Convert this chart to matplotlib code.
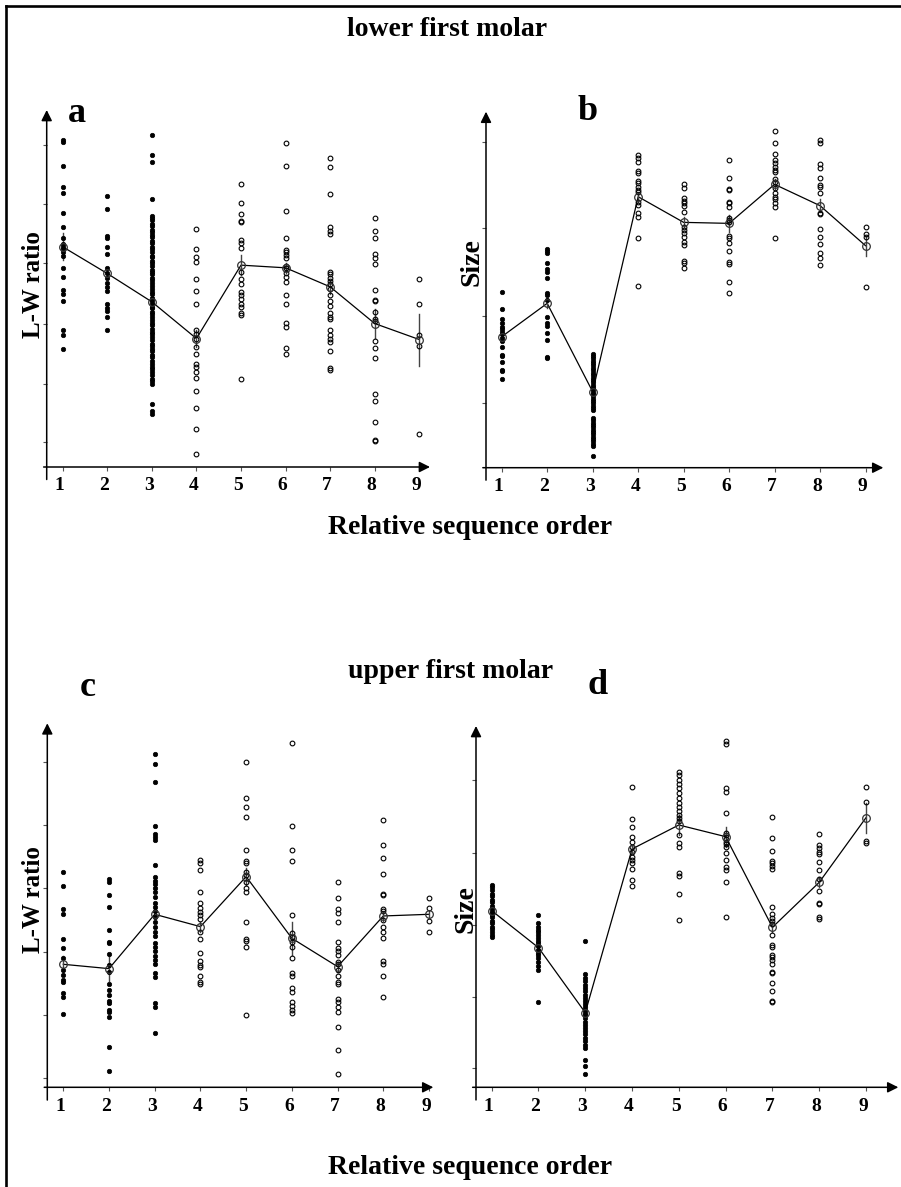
import matplotlib
matplotlib.use("Agg")
import matplotlib.pyplot as plt
from matplotlib.lines import Line2D
from matplotlib.transforms import ScaledTranslation

plt.rcParams.update({"font.family": "Liberation Serif", "font.weight": "bold"})

W, H = 901, 1187
categories = [1, 2, 3, 4, 5, 6, 7, 8, 9]
filled = [True, True, True, False, False, False, False, False, False]

# ---- a: lower first molar, L-W ratio ----
a_points = [
    [98.0, 97.3, 90.3, 84.0, 82.0, 76.2, 71.8, 68.5, 66.8, 66.0, 65.2, 64.3, 63.3, 59.7, 56.8, 53.0, 52.0, 49.7, 41.0, 39.5, 35.5],
    [81.2, 77.2, 69.2, 68.5, 66.0, 63.7, 59.7, 58.0, 56.5, 55.0, 54.0, 52.7, 49.0, 47.8, 46.7, 45.0, 41.0],
    [99.5, 93.5, 91.5, 80.2, 75.2, 74.6, 73.9, 72.8, 72.2, 71.1, 70.5, 69.4, 68.9, 67.6, 67.1, 66.0, 65.2, 64.5,
     63.3, 62.9, 61.7, 61.0, 60.2, 59.1, 58.4, 57.8, 56.6, 56.0, 55.1, 54.3, 53.5, 52.4, 51.9, 50.8, 50.0, 49.3,
     48.1, 47.6, 46.5, 45.8, 44.9, 44.0, 43.2, 42.5, 41.4, 40.6, 39.8, 38.9, 38.1, 37.0, 36.4, 35.3, 34.7, 33.6,
     32.9, 31.8, 31.0, 30.1, 29.3, 28.4, 27.6, 26.5, 25.9, 25.0, 19.0, 16.8, 16.0],
    [71.2, 65.3, 63.0, 61.3, 56.2, 52.8, 49.0, 41.0, 40.0, 38.5, 36.0, 33.8, 31.0, 30.0, 28.5, 26.8, 22.8, 17.8, 11.5, 3.8],
    [84.7, 79.0, 75.8, 73.8, 73.3, 68.0, 67.0, 65.5, 58.5, 56.2, 54.8, 52.5, 51.5, 50.5, 49.0, 48.0, 46.2, 45.7, 26.5],
    [97.2, 90.2, 76.8, 68.5, 65.0, 64.3, 63.5, 62.5, 60.2, 59.5, 58.2, 57.0, 55.5, 51.5, 48.8, 43.3, 42.0, 35.7, 34.0],
    [92.5, 89.8, 81.7, 72.0, 70.7, 69.8, 58.5, 57.7, 56.7, 55.7, 54.7, 53.5, 51.5, 49.8, 48.3, 46.2, 45.0, 44.4,
     41.2, 39.5, 38.5, 37.5, 34.7, 29.7, 29.0],
    [74.5, 70.7, 68.7, 63.7, 62.7, 60.7, 53.2, 50.0, 49.7, 46.5, 44.5, 43.7, 37.8, 35.8, 32.8, 22.0, 19.8, 13.5, 8.0, 7.7],
    [56.2, 49.0, 39.7, 36.2, 9.8],
]
a_means = [66.0, 58.0, 49.5, 38.5, 60.5, 59.7, 54.0, 43.0, 38.2]
a_err = [4.0, 1.5, 1.0, 2.5, 3.0, 1.5, 2.0, 4.3, 7.8]

# ---- b: lower first molar, size ----
b_points = [
    [52.6, 47.6, 44.5, 43.3, 42.3, 41.5, 40.8, 40.0, 38.8, 38.1, 36.3, 33.8, 33.6, 31.8, 29.3, 29.0, 26.5],
    [65.6, 65.0, 64.3, 61.3, 59.6, 58.8, 56.8, 52.3, 51.8, 50.3, 45.3, 43.3, 42.5, 40.5, 38.3, 33.3, 32.8],
    [34.1, 33.4, 32.8, 32.0, 31.3, 30.7, 29.9, 29.2, 28.5, 27.8, 27.0, 26.4, 25.7, 24.9, 24.2, 23.6, 22.8, 22.1,
     21.4, 20.7, 19.9, 19.3, 18.6, 17.8, 17.2, 14.8, 14.2, 13.5, 12.9, 12.1, 11.4, 10.8, 10.0, 9.3, 8.6, 7.9,
     7.1, 6.4, 3.5],
    [93.8, 92.8, 91.8, 89.0, 88.3, 86.0, 85.3, 84.3, 83.3, 82.8, 79.8, 78.8, 76.3, 75.3, 68.8, 54.5],
    [85.1, 83.8, 80.8, 80.0, 79.3, 78.6, 76.8, 72.3, 71.3, 70.3, 69.3, 67.8, 66.8, 62.1, 61.5, 59.8],
    [92.3, 86.8, 83.6, 83.3, 79.6, 79.3, 78.1, 74.8, 74.3, 73.8, 69.5, 68.8, 67.3, 65.0, 61.8, 61.1, 55.8, 52.5],
    [101.0, 97.3, 94.0, 92.3, 91.5, 90.3, 89.3, 88.8, 86.5, 85.8, 83.8, 82.3, 81.3, 80.5, 79.3, 78.1, 68.8],
    [98.3, 97.3, 91.0, 89.8, 86.8, 84.8, 84.1, 82.3, 76.3, 76.1, 71.5, 69.3, 67.1, 64.5, 62.8, 60.8],
    [72.3, 70.0, 69.3, 54.1],
]
b_means = [39.3, 49.3, 22.8, 81.3, 73.6, 73.3, 85.0, 78.6, 66.6]
b_err = [1.0, 1.5, 1.0, 1.5, 1.5, 2.5, 1.5, 2.0, 3.0]

# ---- c: upper first molar, L-W ratio ----
c_points = [
    [64.5, 60.4, 53.4, 51.9, 44.5, 41.7, 38.7, 35.2, 33.7, 32.2, 31.7, 28.2, 27.2, 21.9],
    [62.5, 61.7, 57.7, 54.0, 47.2, 43.5, 43.2, 39.9, 36.7, 34.7, 30.9, 29.2, 27.7, 26.0, 25.4, 23.2, 22.7, 21.0, 12.2, 5.0],
    [99.9, 97.0, 91.6, 78.4, 76.0, 75.2, 74.2, 66.7, 63.0, 62.0, 61.0, 59.7, 58.7, 57.2, 55.4, 54.2, 52.9, 51.0,
     49.7, 48.2, 46.7, 45.4, 43.2, 42.2, 41.0, 39.4, 38.2, 36.9, 34.4, 33.2, 25.2, 24.0, 16.2],
    [68.2, 67.4, 65.2, 58.5, 55.4, 53.9, 52.7, 51.7, 50.4, 46.7, 44.5, 40.4, 38.0, 36.7, 36.0, 33.5, 31.7, 31.0],
    [97.6, 86.9, 84.2, 81.2, 71.2, 67.9, 67.2, 64.7, 63.7, 61.7, 59.7, 58.5, 49.5, 44.4, 44.0, 42.0, 21.7],
    [103.4, 78.4, 71.2, 67.9, 51.7, 46.2, 45.0, 43.7, 42.2, 38.9, 34.4, 33.5, 29.7, 28.7, 25.7, 24.4, 23.2, 22.2],
    [61.7, 56.9, 53.4, 52.2, 49.7, 43.7, 41.9, 41.0, 39.7, 37.7, 37.0, 35.2, 33.4, 31.7, 31.0, 26.5, 25.5, 24.2,
     22.5, 18.0, 11.2, 3.9],
    [80.1, 72.7, 68.9, 64.1, 57.9, 57.7, 53.4, 52.9, 50.2, 48.2, 46.5, 44.7, 37.9, 37.0, 33.4, 27.2],
    [56.9, 53.7, 49.9, 46.7],
]
c_means = [36.9, 35.6, 51.9, 48.2, 63.2, 44.7, 36.2, 51.4, 51.9]
c_err = [2.5, 3.8, 1.0, 1.5, 2.5, 5.0, 1.5, 1.5, 1.0]

# ---- d: upper first molar, size ----
d_points = [
    [60.7, 60.1, 59.3, 58.0, 57.4, 56.1, 55.6, 54.3, 53.8, 53.0, 52.4, 51.6, 51.1, 50.0, 49.4, 48.1, 47.5, 46.6, 45.6, 45.0],
    [51.7, 49.2, 48.2, 47.2, 46.5, 45.7, 44.7, 43.9, 43.2, 42.5, 41.2, 40.4, 39.7, 38.7, 37.7, 36.4, 35.2, 25.7],
    [44.0, 33.9, 32.8, 31.9, 30.8, 29.7, 28.8, 27.6, 26.9, 25.9, 25.0, 24.1, 23.2, 22.3, 21.6, 20.7, 19.6, 18.8,
     17.9, 16.8, 15.9, 14.8, 13.9, 12.7, 11.7, 8.2, 6.5, 3.9],
    [90.0, 80.4, 78.2, 75.2, 73.7, 72.2, 70.7, 69.2, 68.2, 67.2, 65.5, 62.2, 60.4],
    [94.7, 93.7, 92.2, 90.9, 89.9, 88.2, 86.7, 85.4, 84.2, 83.0, 81.7, 80.9, 79.9, 75.7, 73.2, 72.2, 64.2, 63.5, 57.9, 50.2],
    [103.9, 103.0, 89.7, 88.7, 82.4, 76.4, 75.7, 74.4, 73.7, 73.0, 72.2, 70.2, 68.2, 66.0, 65.2, 61.5, 51.0],
    [81.2, 74.7, 71.0, 68.0, 67.2, 66.4, 65.4, 54.2, 51.9, 50.9, 50.0, 48.9, 45.7, 42.7, 42.2, 39.7, 39.0, 38.2,
     37.0, 34.7, 34.4, 31.2, 28.9, 26.0, 25.5],
    [75.9, 72.7, 71.7, 70.7, 70.0, 67.5, 65.2, 62.5, 59.0, 55.4, 54.9, 51.2, 50.4],
    [90.2, 85.7, 73.9, 73.2],
]
d_means = [53.0, 41.9, 22.4, 71.5, 78.7, 75.2, 48.0, 61.5, 80.9]
d_err = [1.0, 1.0, 1.0, 1.0, 3.0, 3.0, 1.5, 1.5, 4.5]

fig = plt.figure(figsize=(W / 100, H / 100), dpi=100)


def box(l, t, r, b):
    return [l / W, 1 - b / H, (r - l) / W, (b - t) / H]


def panel(rect, xlim, ylim, yticks, points, means, err):
    ax = fig.add_axes(box(*rect))
    ax.set_xlim(*xlim)
    ax.set_ylim(*ylim)
    for s in ax.spines.values():
        s.set_visible(False)
    ax.patch.set_alpha(0)
    # axes with arrow heads, crossing a little at the origin
    ax.annotate("", xy=(1, 0), xytext=(-0.008, 0), xycoords="axes fraction",
                arrowprops=dict(arrowstyle="-|>", color="k", lw=1.1,
                                mutation_scale=16, shrinkA=0, shrinkB=0))
    ax.annotate("", xy=(0, 1), xytext=(0, -0.035), xycoords="axes fraction",
                arrowprops=dict(arrowstyle="-|>", color="k", lw=1.1,
                                mutation_scale=16, shrinkA=0, shrinkB=0))
    ax.set_xticks(categories)
    ax.set_xticklabels([str(c) for c in categories], fontsize=14, fontweight="bold")
    ax.set_yticks(yticks)
    ax.set_yticklabels([])
    ax.tick_params(axis="x", length=3, width=0.8, color="#555555", pad=4.5)
    ax.tick_params(axis="y", length=3, width=0.8, color="#555555")
    shift = ScaledTranslation(-3 / 100, 0, fig.dpi_scale_trans)
    for lab in ax.get_xticklabels():
        lab.set_transform(lab.get_transform() + shift)

    ax.plot(categories, means, color="k", lw=0.9, zorder=2)
    for c, vals, m, e, f in zip(categories, points, means, err, filled):
        ax.plot([c, c], [m - e, m + e], color="#444444", lw=1.0, zorder=2)
        if f:
            ax.plot([c] * len(vals), vals, "o", ms=3.2, mfc="k", mec="k", mew=0.5, zorder=3)
        else:
            ax.plot([c] * len(vals), vals, "o", ms=3.4, mfc="none", mec="k", mew=0.8, zorder=3)
        ax.plot(c, m, "o", ms=5.5, mfc="none", mec="#333333", mew=0.9, zorder=4)
    return ax


panel((46.7, 110, 430, 467), (0.641, 9.24), (0, 107),
      [7.5, 25.0, 43.0, 61.0, 78.7, 96.5], a_points, a_means, a_err)
panel((486, 111.7, 883.3, 467.7), (0.655, 9.39), (0, 106.8),
      [19.3, 45.6, 71.8, 97.8], b_points, b_means, b_err)
panel((47.3, 723.3, 433.3, 1087.3), (0.65, 9.094), (0, 109.2),
      [2.7, 21.7, 40.7, 59.7, 78.7, 97.7], c_points, c_means, c_err)
panel((476, 726, 898.3, 1087.3), (0.665, 9.69), (0, 108.4),
      [5.7, 27.2, 48.7, 70.2, 92.2], d_points, d_means, d_err)


def ftext(x, y, s, size, rot=0):
    fig.text(x / W, 1 - y / H, s, fontsize=size, fontweight="bold",
             ha="center", va="center", rotation=rot)


ftext(447, 30, "lower first molar", 20)
ftext(451, 671, "upper first molar", 20)
ftext(470, 528, "Relative sequence order", 20)
ftext(470, 1167, "Relative sequence order", 20)
ftext(77, 113, "a", 26)
ftext(588, 112, "b", 26)
ftext(88, 687, "c", 26)
ftext(598, 686, "d", 26)
ftext(34, 285, "L-W ratio", 18, rot=90)
ftext(472, 262, "Size", 20, rot=90)
ftext(33, 900, "L-W ratio", 18, rot=90)
ftext(466, 909, "Size", 20, rot=90)

# frame of the figure (left and top edges)
fig.add_artist(Line2D([5.5 / W, 5.5 / W], [0, 1 - 6 / H], color="k", lw=1.9))
fig.add_artist(Line2D([5.5 / W, 1], [1 - 6 / H, 1 - 6 / H], color="k", lw=1.9))

fig.savefig("out.png", dpi=100, facecolor="white")
